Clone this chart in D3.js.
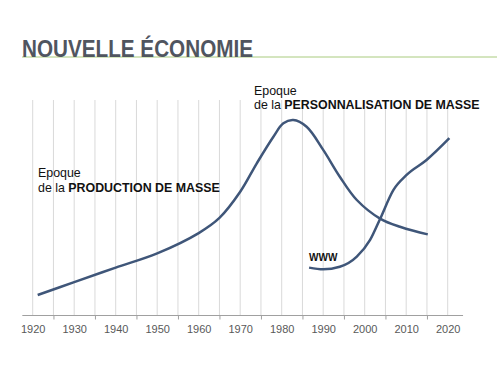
<!DOCTYPE html>
<html>
<head>
<meta charset="utf-8">
<script src="https://cdn.jsdelivr.net/npm/d3@7"></script>
<style>
  body { margin: 0; background: #fff; }
  svg text { font-family: "Liberation Sans", Arial, sans-serif; }
</style>
</head>
<body>
<div id="holder"></div>
<script>
const w = 497;
const h = 372;

// DATA
const tickYears = [1920, 1930, 1940, 1950, 1960, 1970, 1980, 1990, 2000, 2010, 2020];
const gridYears = d3.range(1920, 2021, 5);
const markYears = [1925, 1935, 1945, 1955, 1965, 1975, 1985, 1995, 2005, 2015];

// production / personnalisation curve
const massYears = [1921.2, 1930, 1940, 1950, 1960, 1965, 1970, 1974, 1978, 1980.4, 1982.8, 1986, 1990, 1994, 1998.1, 2003.7, 2008.5, 2015.2];
const massValues = [9.7, 15.7, 22.4, 29.0, 38.4, 45.4, 57.5, 70.7, 83.0, 89.2, 90.7, 87.6, 76.9, 64.5, 53.7, 45.1, 41.3, 37.8];

// www curve
const wwwYears = [1986.6, 1990.0, 1994.0, 1998.1, 2001.3, 2003.7, 2006.9, 2010.1, 2014.9, 2020.4];
const wwwValues = [22.4, 21.6, 22.8, 27.5, 35.2, 44.9, 58.3, 65.3, 72.2, 82.3];

const lineColor = "#3f5679";

// CREATE SVG
const svg = d3.select("#holder")
    .append("svg")
    .attr("width", w)
    .attr("height", h)

// TITLE
svg.append("line")
    .attr("x1", 22).attr("x2", w)
    .attr("y1", 57).attr("y2", 57)
    .attr("stroke", "#a9cb7f")
    .attr("stroke-width", 1);

svg.append("text")
    .attr("x", 22).attr("y", 57)
    .attr("font-family", "'Liberation Sans Narrow', 'DejaVu Sans Condensed', sans-serif")
    .attr("font-weight", "bold")
    .attr("font-size", 23)
    .attr("textLength", 231)
    .attr("lengthAdjust", "spacingAndGlyphs")
    .attr("fill", "#50555f")
    .text("NOUVELLE ÉCONOMIE");

// SCALES
const xScale = d3.scaleLinear()
    .domain([1920, 2020])
    .range([32.7, 447.7])

const yScale = d3.scaleLinear()
    .domain([0, 100])
    .range([316, 100])

// GRID
svg.append("g")
    .selectAll("line")
    .data(gridYears)
    .enter()
    .append("line")
    .attr("x1", d => xScale(d)).attr("x2", d => xScale(d))
    .attr("y1", yScale(100)).attr("y2", yScale(0))
    .attr("stroke", "#d9d9d9")
    .attr("stroke-width", 1)

// X AXIS
const axisG = svg.append("g")
    .attr("transform", "translate(0," + (yScale(0) - 0.5) + ")")

axisG.append("line")
    .attr("x1", xScale(1917.5)).attr("x2", xScale(2023.7))
    .attr("stroke", "#a0a0a0")

axisG.call(d3.axisBottom(xScale).tickValues(markYears).tickSize(4).tickFormat(""))
    .call(g => g.select(".domain").remove())
    .call(g => g.selectAll(".tick line").attr("stroke", "#a0a0a0"))

const labelAxis = svg.append("g")
    .attr("transform", "translate(0," + (yScale(0) + 4) + ")")
    .call(d3.axisBottom(xScale).tickValues(tickYears).tickSize(0).tickFormat(d3.format("")))
labelAxis.select(".domain").remove()
labelAxis.selectAll("text")
    .attr("font-family", "'Liberation Sans', Arial, sans-serif")
    .attr("font-size", 11)
    .attr("fill", "#595959")
    .attr("dy", "0.9em")

// CURVES
const massLine = d3.line()
    .x(d => xScale(d[0]))
    .y(d => yScale(d[1]))
    .curve(d3.curveCatmullRom.alpha(0.5))

const wwwLine = d3.line()
    .x(d => xScale(d[0]))
    .y(d => yScale(d[1]))
    .curve(d3.curveMonotoneX)

svg.append("path")
    .datum(massYears.map((y, i) => [y, massValues[i]]))
    .attr("d", massLine)
    .attr("fill", "none")
    .attr("stroke", lineColor)
    .attr("stroke-width", 2.5)

svg.append("path")
    .datum(wwwYears.map((y, i) => [y, wwwValues[i]]))
    .attr("d", wwwLine)
    .attr("fill", "none")
    .attr("stroke", lineColor)
    .attr("stroke-width", 2.5)

// ANNOTATIONS
function label(x, y, normal, bold) {
    const t = svg.append("text")
        .attr("x", x).attr("y", y)
        .attr("font-size", 12.4)
        .attr("fill", "#111")
    t.append("tspan").text(normal)
    if (bold) t.append("tspan").attr("font-weight", "bold").text(bold)
}

label(38, 177, "Epoque")
label(38, 192, "de la ", "PRODUCTION DE MASSE")
label(254, 95, "Epoque")
label(254, 109, "de la ", "PERSONNALISATION DE MASSE")

svg.append("text")
    .attr("x", 309).attr("y", 261)
    .attr("font-size", 10)
    .attr("font-weight", "bold")
    .attr("fill", "#111")
    .text("WWW")
</script>
</body>
</html>
